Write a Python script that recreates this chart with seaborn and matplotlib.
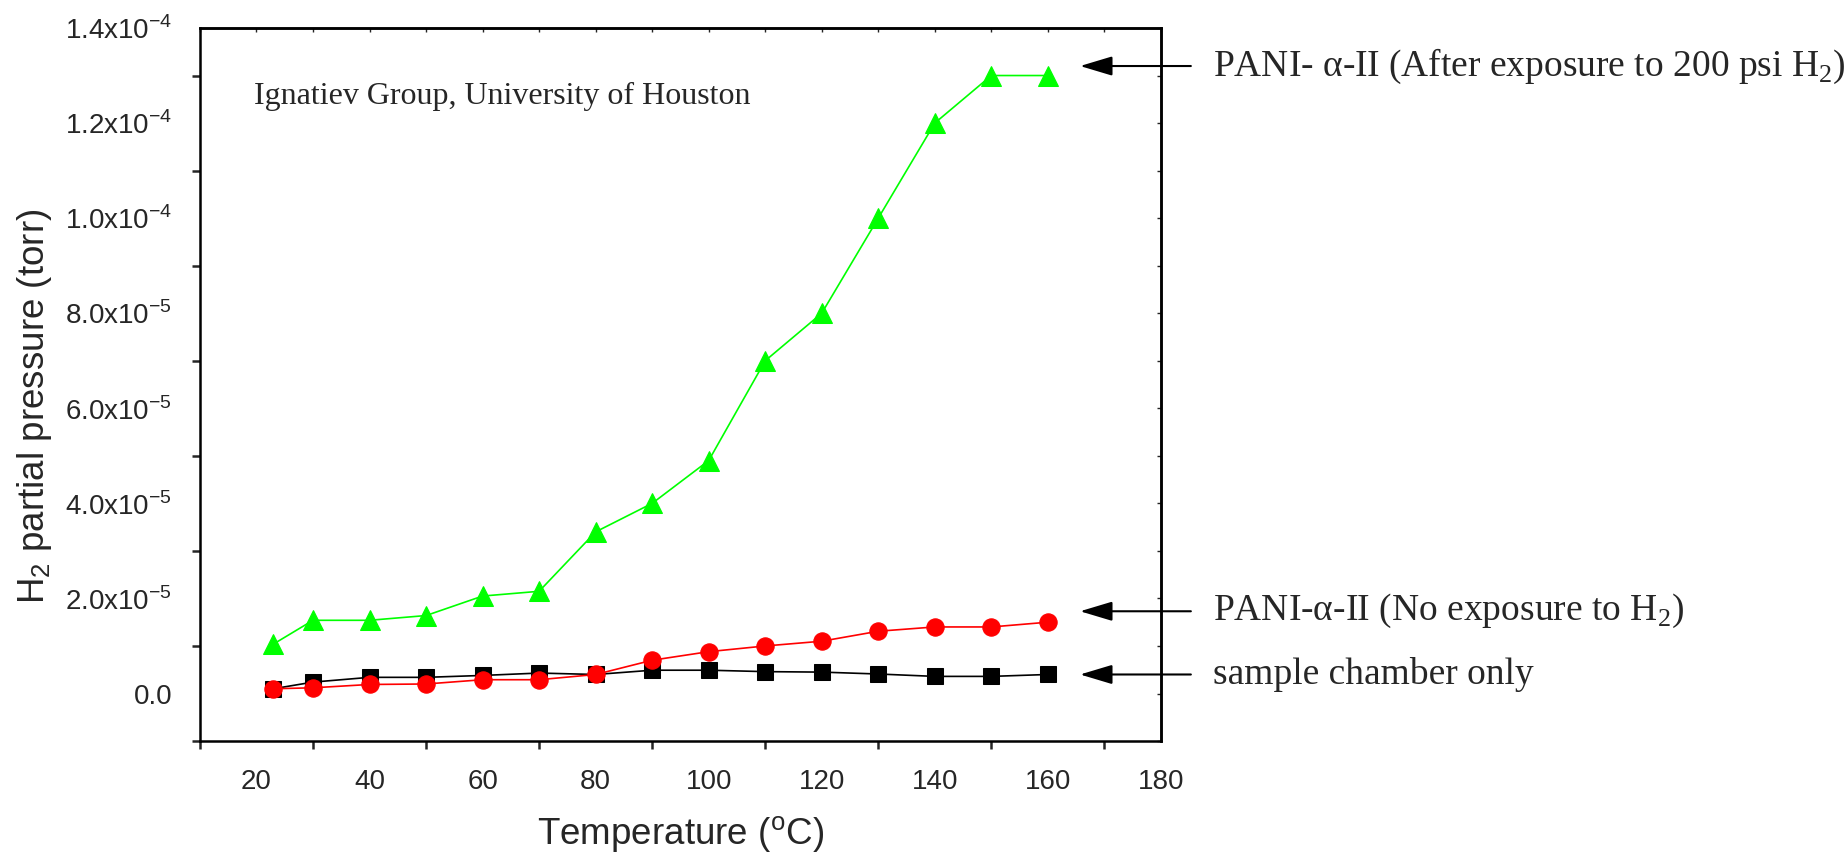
import matplotlib
matplotlib.use('Agg')
import matplotlib.pyplot as plt
from matplotlib.ticker import MultipleLocator, FixedLocator
import seaborn as sns

# data
temperature = [23, 30, 40, 50, 60, 70, 80, 90, 100, 110, 120, 130, 140, 150, 160]
chamber_only = [1.0e-6, 2.4e-6, 3.4e-6, 3.4e-6, 3.8e-6, 4.3e-6, 4.0e-6, 4.9e-6,
                4.9e-6, 4.6e-6, 4.5e-6, 4.1e-6, 3.6e-6, 3.6e-6, 4.0e-6]
no_exposure = [1.0e-6, 1.2e-6, 1.9e-6, 2.0e-6, 2.9e-6, 2.9e-6, 4.0e-6, 7.0e-6,
               8.8e-6, 1.0e-5, 1.1e-5, 1.31e-5, 1.40e-5, 1.40e-5, 1.5e-5]
after_exposure = [1.04e-5, 1.54e-5, 1.54e-5, 1.64e-5, 2.05e-5, 2.15e-5, 3.4e-5, 4.0e-5,
                  4.9e-5, 7.0e-5, 8.0e-5, 1.0e-4, 1.2e-4, 1.3e-4, 1.3e-4]

y_ticks = [0, 2e-5, 4e-5, 6e-5, 8e-5, 1.0e-4, 1.2e-4, 1.4e-4]
y_tick_labels = ['0.0',
                 r'2.0x10$^{\mathregular{-5}}$', r'4.0x10$^{\mathregular{-5}}$',
                 r'6.0x10$^{\mathregular{-5}}$', r'8.0x10$^{\mathregular{-5}}$',
                 r'1.0x10$^{\mathregular{-4}}$', r'1.2x10$^{\mathregular{-4}}$',
                 r'1.4x10$^{\mathregular{-4}}$']

series_labels = [r'PANI- $\mathregular{\alpha}$-II (After exposure to 200 psi H$_{\mathregular{2}}$)',
                 r'PANI-$\mathregular{\alpha}$-II (No exposure to H$_{\mathregular{2}}$)',
                 'sample chamber only']
label_y = [1.32e-4, 1.73e-5, 4.0e-6]

sns.set_style('white')
plt.rcParams['font.family'] = ['Liberation Sans', 'DejaVu Sans']
plt.rcParams['mathtext.fontset'] = 'custom'
plt.rcParams['mathtext.rm'] = 'Liberation Sans'
plt.rcParams['axes.edgecolor'] = 'black'

fig = plt.figure(figsize=(18.48, 8.56), dpi=100)
ax = fig.add_axes([0.1082, 0.1343, 0.5200, 0.8330])

sns.lineplot(x=temperature, y=chamber_only, ax=ax, color='black', marker='s',
             markersize=11, markeredgecolor='black', linewidth=1.2)
sns.lineplot(x=temperature, y=no_exposure, ax=ax, color='#ff0000', marker='o',
             markersize=12.5, markeredgecolor='#ff0000', linewidth=1.2)
sns.lineplot(x=temperature, y=after_exposure, ax=ax, color='#00ff00', marker='^',
             markersize=15, markeredgecolor='#00ff00', linewidth=1.2)

ax.set_xlim(10, 180)
ax.set_ylim(-1e-5, 1.4e-4)
ax.xaxis.set_major_locator(MultipleLocator(20))
ax.xaxis.set_minor_locator(MultipleLocator(10))
ax.yaxis.set_major_locator(FixedLocator(y_ticks))
ax.set_yticklabels(y_tick_labels)
ax.yaxis.set_minor_locator(MultipleLocator(1e-5))

for s in ax.spines.values():
    s.set_linewidth(1.8)
ax.tick_params(axis='y', which='major', length=12, width=1.8, direction='out', labelsize=20, pad=8)
ax.tick_params(axis='y', which='minor', length=6, width=1.8, direction='out', left=True)
ax.tick_params(axis='x', which='major', length=10, width=1.8, direction='out', labelsize=20, pad=10)
ax.tick_params(axis='x', which='minor', length=5.5, width=1.8, direction='out', bottom=True)

# small inward ticks on the top and right frame
top = ax.secondary_xaxis('top')
top.xaxis.set_major_locator(MultipleLocator(10))
top.tick_params(direction='in', length=3, width=1, labeltop=False)
top.spines['top'].set_linewidth(1.8)
right = ax.secondary_yaxis('right')
right.yaxis.set_major_locator(MultipleLocator(1e-5))
right.tick_params(direction='in', length=3, width=1, labelright=False)
right.spines['right'].set_linewidth(1.8)

ax.set_xlabel(r'Temperature ($^{\mathregular{o}}$C)', fontsize=26.5, labelpad=14)
ax.set_ylabel(r'H$_{\mathregular{2}}$ partial pressure (torr)', fontsize=26.5)
ax.yaxis.set_label_coords(-0.152, 0.47)

ax.text(19.5, 1.255e-4, 'Ignatiev Group, University of Houston', fontsize=23,
        fontfamily='Liberation Serif', va='center')

for text, y in zip(series_labels, label_y):
    ax.annotate('', xy=(165.7, y), xytext=(185.3, y), annotation_clip=False,
                arrowprops=dict(arrowstyle='-|>,head_length=1.0,head_width=0.3',
                                mutation_scale=20, color='black', lw=1.5,
                                shrinkA=0, shrinkB=0))
    ax.text(189.2, y, text, fontsize=27, fontfamily='Liberation Serif', va='center',
            clip_on=False)

fig.savefig('out.png', dpi=100)
